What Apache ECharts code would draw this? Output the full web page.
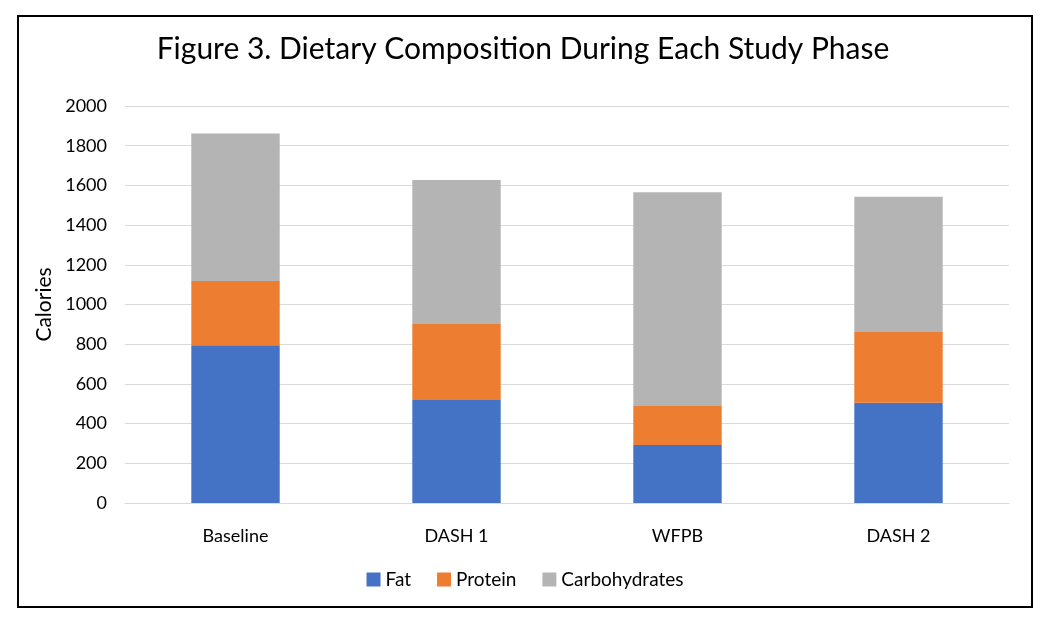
<!DOCTYPE html>
<html>
<head>
<meta charset="utf-8">
<script src="https://cdn.jsdelivr.net/npm/echarts@6/dist/echarts.min.js"></script>
<style>
html,body{margin:0;padding:0;background:#fff;}
#chart{width:1050px;height:624px;}
</style>
</head>
<body>
<div id="chart"></div>
<script>
const categories = ['Baseline', 'DASH 1', 'WFPB', 'DASH 2'];
const fat = [795, 519, 292, 505];
const protein = [323, 383, 197, 356];
const carbohydrates = [744, 725, 1076, 682];
const yTicks = [0, 200, 400, 600, 800, 1000, 1200, 1400, 1600, 1800, 2000];

const font = 'Lato, "Open Sans", "Liberation Sans", sans-serif';
const chart = echarts.init(document.getElementById('chart'));
chart.setOption({
  animation: false,
  backgroundColor: '#fff',
  textStyle: { fontFamily: font },
  graphic: [{
    type: 'rect',
    shape: { x: 18, y: 16, width: 1014, height: 591 },
    style: { fill: 'none', stroke: '#000', lineWidth: 2 }
  }],
  title: {
    text: 'Figure 3. Dietary Composition During Each Study Phase',
    left: 518, top: 29, textAlign: 'center',
    textStyle: { fontFamily: font, fontSize: 30, fontWeight: 'normal', color: '#000' }
  },
  legend: {
    data: ['Fat', 'Protein', 'Carbohydrates'],
    bottom: 30, left: 'center',
    itemWidth: 14, itemHeight: 14, itemGap: 26,
    icon: 'rect',
    textStyle: { fontFamily: font, fontSize: 19, color: '#000' }
  },
  grid: { left: 125, right: 41, top: 106, bottom: 121, containLabel: false },
  xAxis: {
    type: 'category', data: categories,
    axisLine: { lineStyle: { color: '#d9d9d9', width: 1 } },
    axisTick: { show: false },
    axisLabel: { fontFamily: font, fontSize: 18, color: '#000', margin: 24 }
  },
  yAxis: {
    type: 'value', min: yTicks[0], max: yTicks[yTicks.length - 1], interval: 200,
    name: 'Calories', nameLocation: 'middle', nameGap: 70, nameRotate: 90,
    nameTextStyle: { fontFamily: font, fontSize: 21, color: '#000' },
    axisLine: { show: false }, axisTick: { show: false },
    splitLine: { lineStyle: { color: '#d9d9d9', width: 1 } },
    axisLabel: { fontFamily: font, fontSize: 18, color: '#000', margin: 18, formatter: v => String(v) }
  },
  series: [
    { name: 'Fat', type: 'bar', stack: 'total', data: fat, barWidth: '40%', itemStyle: { color: '#4472C4' } },
    { name: 'Protein', type: 'bar', stack: 'total', data: protein, itemStyle: { color: '#ED7D31' } },
    { name: 'Carbohydrates', type: 'bar', stack: 'total', data: carbohydrates, itemStyle: { color: '#B4B4B4' } }
  ]
});
</script>
</body>
</html>
